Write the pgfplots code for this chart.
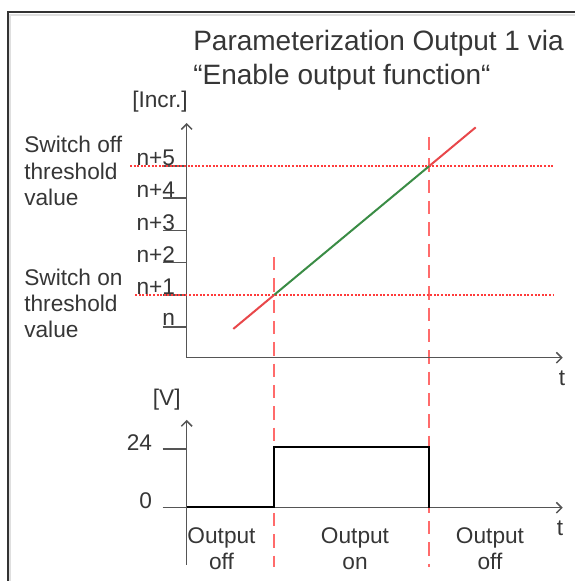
\documentclass[border=0pt]{standalone}
\usepackage{fontspec}
\setmainfont{Liberation Sans}
\usepackage{pgfplots}
\pgfplotsset{compat=1.18}
\usetikzlibrary{arrows.meta}
\definecolor{axgray}{HTML}{555555}
\definecolor{txt}{HTML}{363636}
\definecolor{lnred}{HTML}{E8474A}
\definecolor{lngreen}{HTML}{3A8C45}
\definecolor{dashred}{HTML}{FF6B6B}
\definecolor{dotred}{HTML}{FF3B3B}
\newcommand{\lab}{\fontsize{17}{19.7}\selectfont}
\newcommand{\ttl}{\fontsize{21}{26}\selectfont}

\begin{document}
\begin{tikzpicture}
% lower chart: output voltage
\begin{axis}[
    at={(0,-135.525pt)}, anchor=origin,
    x=0.75pt, y=1.8345pt,
    xmin=0, xmax=376, ymin=-23.4, ymax=35.9,
    axis lines=middle,
    axis line style={axgray, line width=1.1pt},
    x axis line style={-{Straight Barb[length=4pt,width=8pt]}},
    y axis line style={-{Straight Barb[length=4pt,width=8pt]}},
    hide obscured x ticks=false, hide obscured y ticks=false,
    xtick=\empty, ytick={0,24}, yticklabels={0,24},
    tick align=outside, major tick length=18pt,
    ytick style={axgray, line width=1.1pt},
    yticklabel style={font=\lab, text=txt, anchor=east, yshift=5pt, xshift=-4.5pt},
    clip=false,
]
\addplot[dashred, line width=1.5pt, dash pattern=on 10pt off 6pt] coordinates {(87.6,102.5) (87.6,-24.2)};
\addplot[dashred, line width=1.5pt, dash pattern=on 10pt off 6pt] coordinates {(242.6,151.6) (242.6,-24.2)};
\addplot[black, line width=1.6pt] coordinates {(0,0.3) (87.6,0.3) (87.6,24.7) (242.6,24.7) (242.6,0)};
\node[font=\lab, text=txt] at (axis cs:-20,44) {[V]};
\node[font=\lab, text=txt] at (axis cs:373.3,-8.3) {t};
\node[font=\lab, text=txt, align=center] at (axis cs:34.8,-16.9) {Output\\off};
\node[font=\lab, text=txt, align=center] at (axis cs:168.3,-16.9) {Output\\on};
\node[font=\lab, text=txt, align=center] at (axis cs:303.3,-16.9) {Output\\off};
\end{axis}

% upper chart: increments
\begin{axis}[
    at={(0,0)}, anchor=origin,
    x=0.75pt, y=24.15pt,
    xmin=0, xmax=376, ymin=-0.953, ymax=6.335,
    axis lines=left,
    axis line style={axgray, line width=1.1pt},
    x axis line style={-{Straight Barb[length=4pt,width=8pt]}},
    y axis line style={-{Straight Barb[length=4pt,width=8pt]}},
    xtick=\empty, ytick={0,1,2,3,4,5},
    yticklabels={n\hspace{5pt}, n+1, n+2, n+3, n+4, n+5},
    tick align=outside, major tick length=18pt,
    ytick style={axgray, line width=1.1pt},
    yticklabel style={font=\lab, text=txt, anchor=east, yshift=6pt, xshift=12.75pt},
    clip=false,
]
\addplot[dotred, line width=1.5pt, dash pattern=on 1.5pt off 1.2pt] coordinates {(-51.7,1) (366.3,1)};
\addplot[dotred, line width=1.5pt, dash pattern=on 1.5pt off 1.2pt] coordinates {(-56.7,5) (366.3,5)};
\addplot[lnred, line width=1.5pt] coordinates {(46.6,-0.06) (87.6,1)};
\addplot[lngreen, line width=1.5pt] coordinates {(87.6,1) (242.6,5)};
\addplot[lnred, line width=1.5pt] coordinates {(242.6,5) (289,6.2)};
\node[font=\lab, text=txt] at (axis cs:-26.7,6.99) {[Incr.]};
\node[font=\lab, text=txt] at (axis cs:375.3,-1.58) {t};
\node[font=\lab, text=txt, anchor=west, align=left] at (axis cs:-167.1,4.84) {Switch off\\threshold\\value};
\node[font=\lab, text=txt, anchor=west, align=left] at (axis cs:-167.1,0.73) {Switch on\\threshold\\value};
\node[font=\ttl, text=txt, anchor=base west, inner sep=0pt] at (axis cs:6.3,8.602) {Parameterization Output 1 via};
\node[font=\ttl, text=txt, anchor=base west, inner sep=0pt] at (axis cs:6.3,7.516) {“Enable output function“};
% frame
\draw[gray!25, line width=1.5pt] (axis cs:-176.2,-7.888) -- (axis cs:-176.2,9.7) -- (axis cs:388.3,9.7);
\draw[black!80, line width=1.3pt] (axis cs:-178.6,-7.888) -- (axis cs:-178.6,9.79) -- (axis cs:388.3,9.79);
\coordinate (bbtl) at (axis cs:-186.7,10.155);
\coordinate (bbbr) at (axis cs:388.3,-7.888);
\end{axis}
\pgfresetboundingbox
\useasboundingbox (bbtl) rectangle (bbbr);
\end{tikzpicture}
\end{document}
